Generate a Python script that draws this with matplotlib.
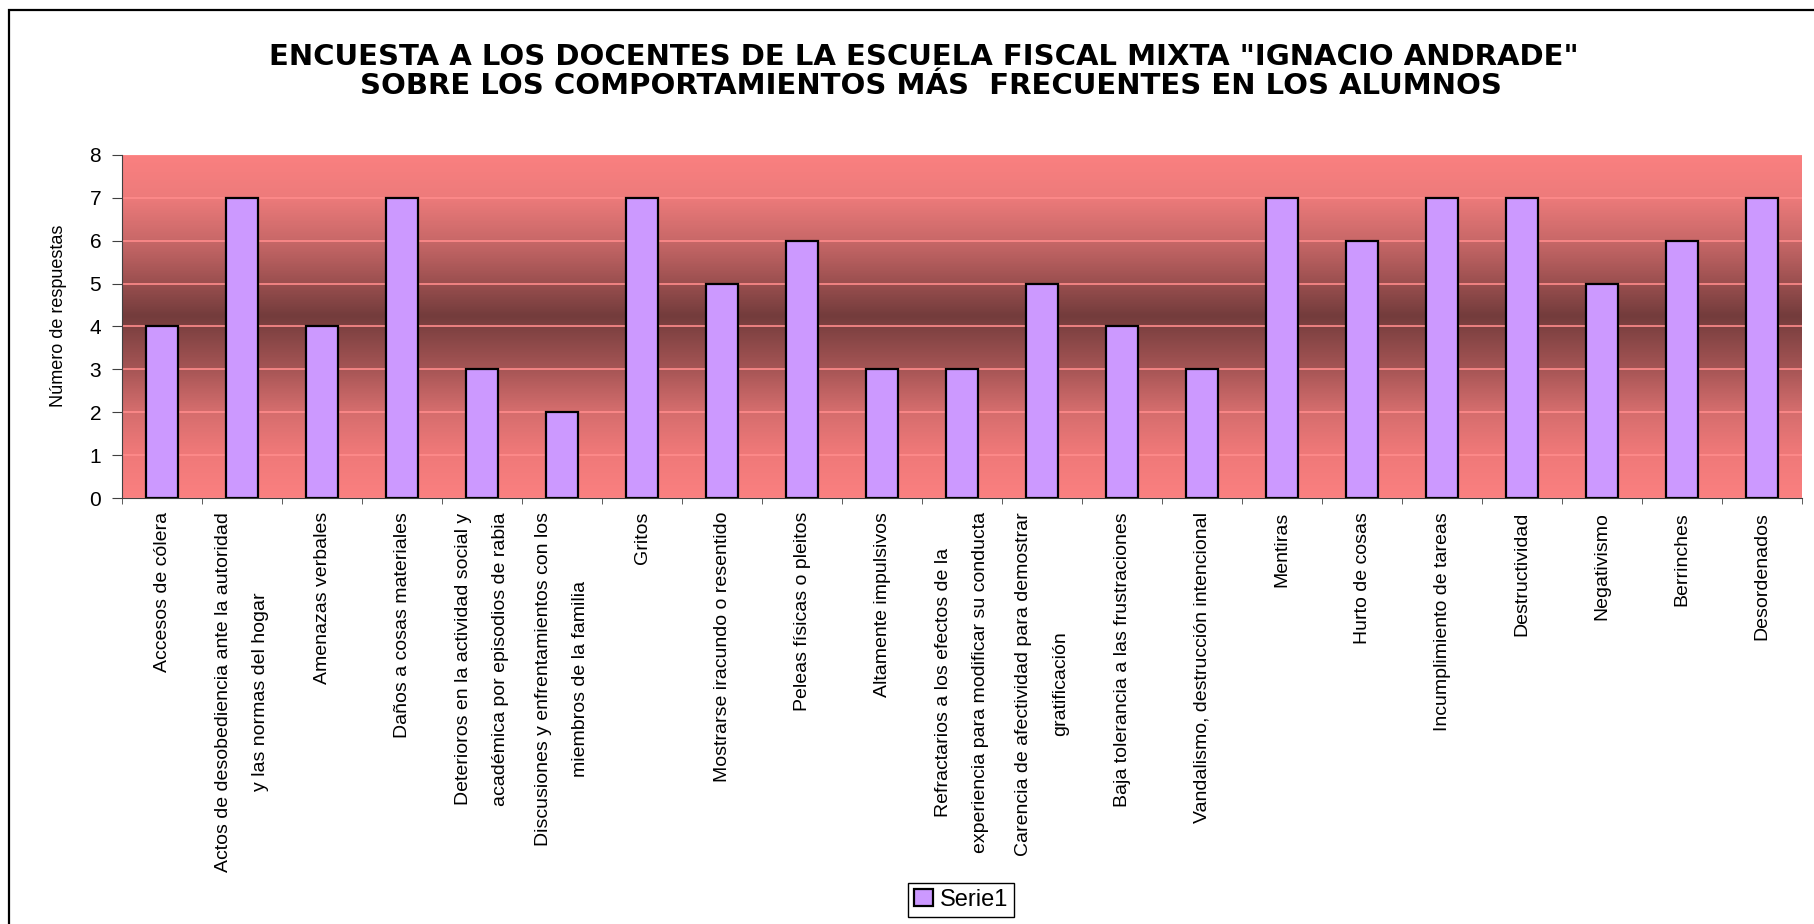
import numpy as np
import matplotlib
matplotlib.use("Agg")
import matplotlib.pyplot as plt
from matplotlib.colors import LinearSegmentedColormap
from matplotlib.patches import Rectangle

# Datos de la encuesta
categorias = [
    "Accesos de cólera",
    "Actos de desobediencia ante la autoridad\ny las normas del hogar",
    "Amenazas verbales",
    "Daños a cosas materiales",
    "Deterioros en la actividad social y\nacadémica por episodios de rabia",
    "Discusiones y enfrentamientos con los\nmiembros de la familia",
    "Gritos",
    "Mostrarse iracundo o resentido",
    "Peleas físicas o pleitos",
    "Altamente impulsivos",
    "Refractarios a los efectos de la\nexperiencia para modificar su conducta",
    "Carencia de afectividad para demostrar\ngratificación",
    "Baja tolerancia a las frustraciones",
    "Vandalismo, destrucción intencional",
    "Mentiras",
    "Hurto de cosas",
    "Incumplimiento de tareas",
    "Destructividad",
    "Negativismo",
    "Berrinches",
    "Desordenados",
]
respuestas = [4, 7, 4, 7, 3, 2, 7, 5, 6, 3, 3, 5, 4, 3, 7, 6, 7, 7, 5, 6, 7]
serie = "Serie1"
titulo_1 = 'ENCUESTA A LOS DOCENTES DE LA ESCUELA FISCAL MIXTA "IGNACIO ANDRADE"'
titulo_2 = "SOBRE LOS COMPORTAMIENTOS MÁS  FRECUENTES EN LOS ALUMNOS"
eje_y = "Número de respuestas"

plt.rcParams['font.family'] = ['Liberation Sans', 'DejaVu Sans']

fig = plt.figure(figsize=(18.14, 9.24), dpi=100)
ax = fig.add_axes([0.0673, 0.4610, 0.9261, 0.3713])

x = np.arange(len(categorias))

# fondo degradado (claro - oscuro - claro)
fondo = LinearSegmentedColormap.from_list("fondo", [
    (0.00, "#FA8080"), (0.14, "#EE7878"), (0.26, "#D26C6C"),
    (0.38, "#A45454"), (0.53, "#733C3C"), (0.63, "#9C5050"),
    (0.75, "#C86868"), (0.88, "#EE7B7B"), (1.00, "#FA8080"),
])
grad = np.linspace(0, 1, 400).reshape(-1, 1)
ax.imshow(grad, cmap=fondo, origin="lower", aspect="auto",
          extent=[-0.5, len(categorias) - 0.5, 0, 8], zorder=0)

ax.set_axisbelow(True)
ax.yaxis.grid(True, color="#FF8C8C", linewidth=1.2)

ax.bar(x, respuestas, width=0.4, color="#CC99FF", edgecolor="black",
       linewidth=1.6, label=serie, zorder=2)

ax.set_xlim(-0.5, len(categorias) - 0.5)
ax.set_ylim(0, 8)
ax.set_yticks(range(0, 9))

ax.set_xticks(x)
ax.set_xticklabels(categorias, rotation=90, ha="center", va="top",
                   multialignment="center", linespacing=2.6, fontsize=14)
ax.set_xticks(np.arange(-0.5, len(categorias)), minor=True)
ax.tick_params(axis="x", which="major", length=0, pad=10)
ax.tick_params(axis="x", which="minor", length=4, color="#404040")
ax.tick_params(axis="y", length=7, color="#404040", pad=8, labelsize=15)

for s in ["top", "right"]:
    ax.spines[s].set_visible(False)
for s in ["left", "bottom"]:
    ax.spines[s].set_color("#404040")

ax.set_ylabel(eje_y, fontsize=13)
ax.yaxis.set_label_coords(-0.033, 0.53)

fig.text(0.509, 0.938, titulo_1, ha="center", va="center",
         fontsize=21, fontweight="bold", family="DejaVu Sans")
fig.text(0.513, 0.907, titulo_2, ha="center", va="center",
         fontsize=21, fontweight="bold", family="DejaVu Sans")

fig.legend(loc="center", bbox_to_anchor=(0.530, 0.026), fontsize=17,
           frameon=True, fancybox=False, edgecolor="black", framealpha=1,
           handlelength=0.8, handleheight=0.7, handletextpad=0.3,
           borderpad=0.25, borderaxespad=0)

# marco exterior del gráfico
fig.patches.append(Rectangle((9 / 1814, -0.1), 1.2, 1.0892, fill=False,
                             edgecolor="black", linewidth=1.6,
                             transform=fig.transFigure, figure=fig))

fig.savefig("out.png", dpi=100)
